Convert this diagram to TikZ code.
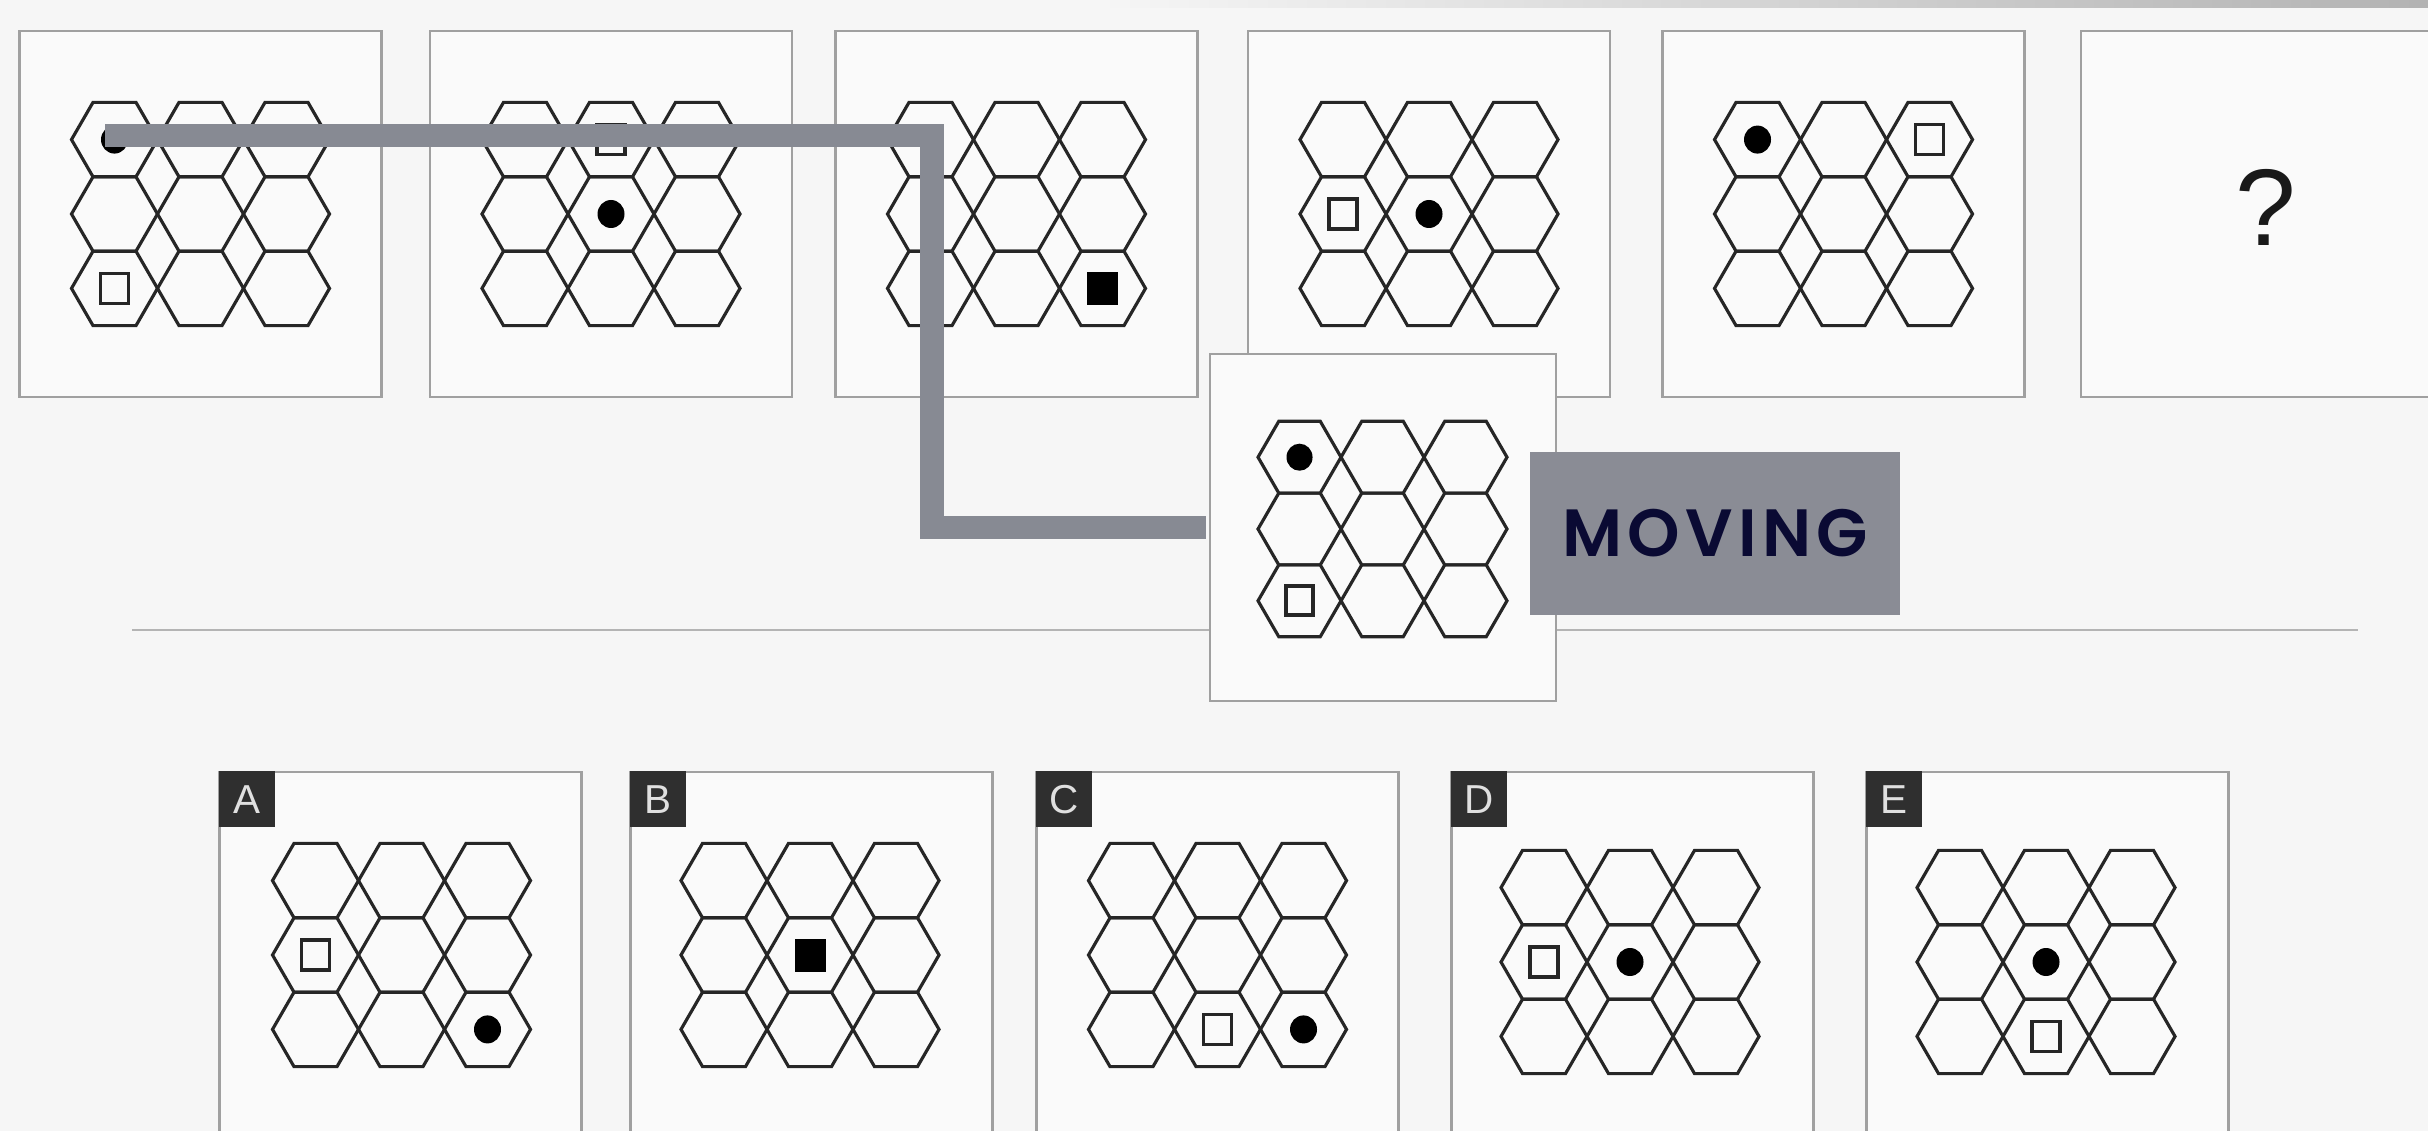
\documentclass[tikz,border=0pt]{standalone}
\usepackage{fontspec}
\setmainfont{Liberation Sans}
\newfontfamily\movefont[LetterSpace=8]{Poppins SemiBold}
\definecolor{bg}{HTML}{F6F6F6}
\definecolor{panelfill}{HTML}{FAFAFA}
\definecolor{panelline}{HTML}{A0A0A0}
\definecolor{barcol}{HTML}{878A93}
\definecolor{tagfill}{HTML}{8A8C95}
\definecolor{tagtext}{HTML}{0A0A33}
\definecolor{letterbox}{HTML}{2F2F2F}
\definecolor{sepline}{HTML}{B4B4B4}
\newcommand\hexgrid[4]{%
\begin{scope}[shift={(#1,#2)},scale=#3]
\foreach \i in {-1,0,1}{\foreach \j in {-1,0,1}{
\draw[hexline] ({\i*86-43},{\j*74.4}) -- ({\i*86-21.5},{\j*74.4-37.2}) -- ({\i*86+21.5},{\j*74.4-37.2}) -- ({\i*86+43},{\j*74.4}) -- ({\i*86+21.5},{\j*74.4+37.2}) -- ({\i*86-21.5},{\j*74.4+37.2}) -- cycle;}}
#4
\end{scope}}
\newcommand\gdot[2]{\fill[black] ({#1*86},{#2*74.4}) ellipse [x radius=13.5, y radius=14];}
\newcommand\gsq[2]{\draw[sqline] ({#1*86-14},{#2*74.4-15}) rectangle ({#1*86+14},{#2*74.4+15});}
\newcommand\gboth[2]{\fill[black] ({#1*86-15.5},{#2*74.4-16.5}) rectangle ({#1*86+15.5},{#2*74.4+16.5});}
\begin{document}
\begin{tikzpicture}[x=0.01cm,y=-0.01cm,
  panel/.style={draw=panelline, line width=0.75pt, fill=panelfill, minimum width=3.62cm, minimum height=3.66cm, inner sep=0pt},
  hexline/.style={line width=0.9pt, draw=black!85, line join=miter},
  sqline/.style={line width=1.05pt, draw=black!85},
  bar/.style={draw=barcol, line width=6.8pt, line join=miter},
  sep/.style={draw=sepline, line width=0.6pt},
  tag/.style={fill=tagfill, minimum width=3.7cm, minimum height=1.63cm, inner sep=0pt, text=tagtext},
  lettertag/.style={fill=letterbox, text=black!12, minimum size=0.56cm, inner sep=0pt, anchor=north west, font=\fontsize{11.5}{12}\selectfont}]
\clip (0,0) rectangle (2428,1131);
\fill[bg] (0,0) rectangle (2428,1131);
\shade[left color=bg, right color=black!30] (1100,0) rectangle (2428,8);
% top row
\node[panel] (p1) at (200.5,214) {};
\node[panel] (p2) at (611,214) {};
\node[panel] (p3) at (1016.5,214) {};
\node[panel] (p4) at (1429,214) {};
\node[panel] (p5) at (1843.5,214) {};
\node[panel] (p6) at (2262,214) {};
\hexgrid{200.5}{214}{1}{\gdot{-1}{-1}\gsq{-1}{1}}
\hexgrid{611}{214}{1}{\gsq{0}{-1}\gdot{0}{0}}
\hexgrid{1016.5}{214}{1}{\gboth{1}{1}}
\hexgrid{1429}{214}{1}{\gsq{-1}{0}\gdot{0}{0}}
\hexgrid{1843.5}{214}{1}{\gdot{-1}{-1}\gsq{1}{-1}}
\node[text=black!90, font=\fontsize{31}{31}\selectfont] (q) at (2266,207) {?};
% separator
\draw[sep] (132,630) -- (2358,630);
% middle
\node[panel, minimum width=3.46cm, minimum height=3.47cm] (mid) at (1383,527.5) {};
\hexgrid{1382.5}{529}{0.965}{\gdot{-1}{-1}\gsq{-1}{1}}
% connector
\coordinate (barstart) at (105,135.5);
\coordinate (bend) at (932,135.5);
\draw[bar, shorten >=0.8pt] (barstart) -- (bend) |- (mid.west);
% tag
\node[tag] (tagbox) at (1715,533.5) {\movefont\fontsize{19}{19}\selectfont MOVING};
% options
\node[panel, minimum height=3.8cm] (oa) at (400.5,962) {};
\node[panel, minimum height=3.8cm] (ob) at (811.5,962) {};
\node[panel, minimum height=3.8cm] (oc) at (1217.5,962) {};
\node[panel, minimum height=3.8cm] (od) at (1632.5,962) {};
\node[panel, minimum height=3.8cm] (oe) at (2047.5,962) {};
\node[lettertag] (la) at (oa.north west) {A};
\node[lettertag] (lb) at (ob.north west) {B};
\node[lettertag] (lc) at (oc.north west) {C};
\node[lettertag] (ld) at (od.north west) {D};
\node[lettertag] (le) at (oe.north west) {E};
\hexgrid{401.5}{955}{1}{\gsq{-1}{0}\gdot{1}{1}}
\hexgrid{810}{955}{1}{\gboth{0}{0}}
\hexgrid{1217.5}{955}{1}{\gsq{0}{1}\gdot{1}{1}}
\hexgrid{1630}{962}{1}{\gsq{-1}{0}\gdot{0}{0}}
\hexgrid{2046}{962}{1}{\gdot{0}{0}\gsq{0}{1}}
\end{tikzpicture}
\end{document}
